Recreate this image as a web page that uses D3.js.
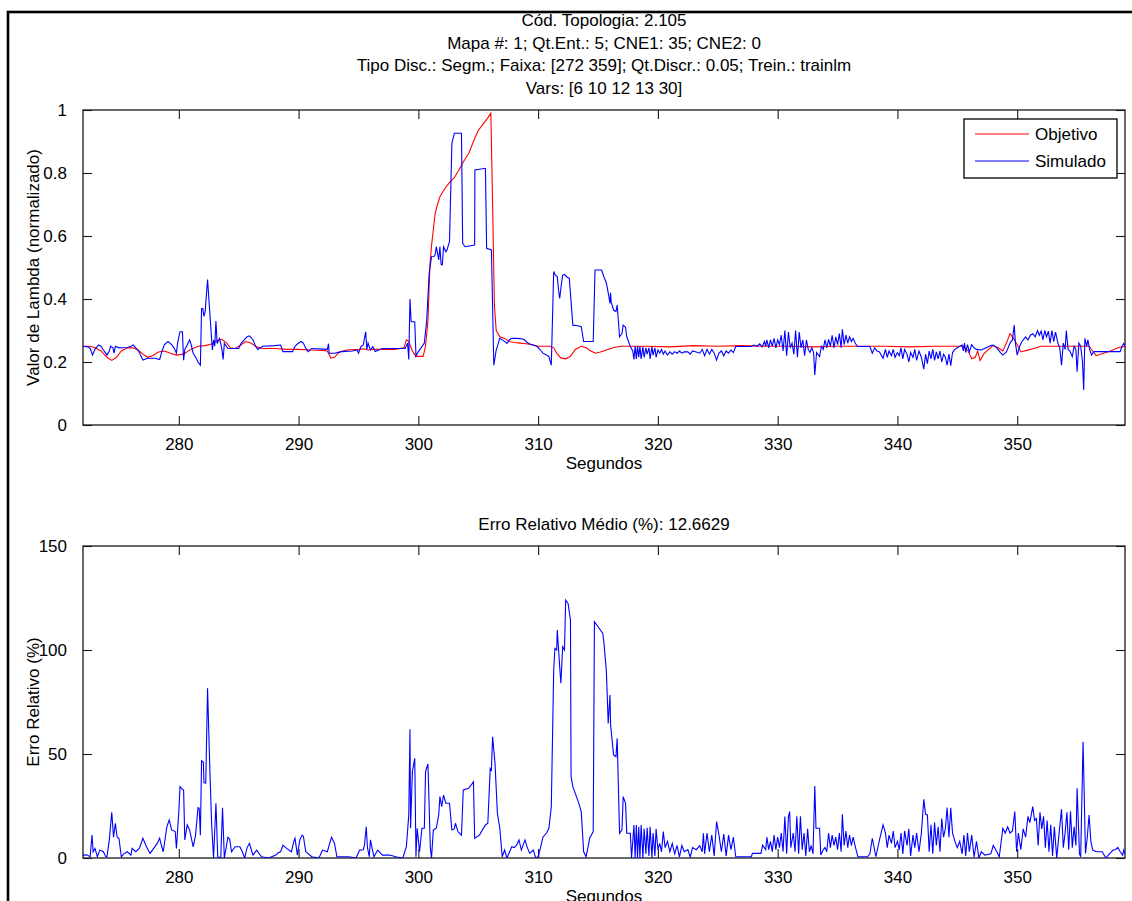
<!DOCTYPE html>
<html>
<head>
<meta charset="utf-8">
<script src="https://cdn.jsdelivr.net/npm/d3@7"></script>
<style>
  html, body { margin: 0; padding: 0; background: #fff; }
  svg text { font-family: "Liberation Sans", Arial, sans-serif; fill: #000; }
</style>
</head>
<body>
<svg id="chart" width="1132" height="901"></svg>
<script>
// ---------------- DATA ----------------
const titleLines = [
  "Cód. Topologia: 2.105",
  "Mapa #: 1; Qt.Ent.: 5; CNE1: 35; CNE2: 0",
  "Tipo Disc.: Segm.; Faixa: [272 359]; Qt.Discr.: 0.05; Trein.: trainlm",
  "Vars: [6 10 12 13 30]"
];
const errorTitle = "Erro Relativo Médio (%): 12.6629";
const xDomain = [272, 359];
const xTicks = [280, 290, 300, 310, 320, 330, 340, 350];
const yTicksTop = [0, 0.2, 0.4, 0.6, 0.8, 1];
const yTickLabelsTop = ["0", "0.2", "0.4", "0.6", "0.8", "1"];
const yTicksBottom = [0, 50, 100, 150];
const legendLabels = ["Objetivo", "Simulado"];

// Objetivo (red) [segundos, valor]
const objetivo = [
[272.0,0.25],[272.6,0.25],[273.0,0.245],[273.5,0.235],[274.0,0.215],[274.4,0.205],[274.8,0.215],[275.2,0.235],[275.7,0.245],
[276.2,0.245],[276.7,0.235],[277.1,0.222],[277.4,0.215],[277.8,0.22],[278.3,0.232],[278.8,0.235],[279.3,0.228],[279.8,0.222],
[280.4,0.225],[281.0,0.24],[281.6,0.25],[282.2,0.252],[282.8,0.258],[283.2,0.268],[283.6,0.272],[284.0,0.26],[284.3,0.245],
[284.7,0.243],[285.2,0.255],[285.6,0.265],[286.0,0.26],[286.5,0.248],[287.0,0.243],[288.0,0.243],[289.0,0.24],[290.0,0.24],
[291.0,0.238],[292.0,0.237],[292.4,0.235],[292.7,0.212],[293.0,0.215],[293.4,0.232],[294.0,0.238],[295.0,0.24],[295.5,0.242],
[295.8,0.238],[296.2,0.24],[297.0,0.24],[298.0,0.24],[298.8,0.245],[299.0,0.27],[299.2,0.265],[299.5,0.235],[299.8,0.218],
[300.4,0.218],[300.6,0.25],[300.8,0.33],[300.97,0.51],[301.1,0.57],[301.25,0.62],[301.4,0.672],[301.6,0.7],[301.8,0.725],
[302.2,0.75],[302.64,0.772],[303.0,0.785],[303.4,0.81],[303.76,0.836],[304.2,0.862],[304.6,0.9],[305.0,0.935],[305.4,0.955],
[305.8,0.975],[306.05,0.99],[306.2,0.7],[306.35,0.38],[306.5,0.3],[306.8,0.28],[307.2,0.275],[307.6,0.265],[308.0,0.262],
[308.5,0.26],[309.0,0.258],[309.5,0.255],[310.0,0.25],[310.5,0.25],[311.0,0.25],[311.3,0.245],[311.6,0.225],[311.9,0.213],
[312.3,0.21],[312.7,0.218],[313.1,0.24],[313.6,0.25],[314.0,0.245],[314.4,0.235],[314.8,0.228],[315.2,0.232],[315.8,0.24],
[316.4,0.247],[317.0,0.25],[319.0,0.25],[321.0,0.248],[323.0,0.252],[325.0,0.25],[327.0,0.252],[329.0,0.25],[331.0,0.25],
[333.0,0.248],[335.0,0.25],[337.0,0.25],[339.0,0.25],[341.0,0.248],[343.0,0.25],[345.0,0.25],[345.5,0.25],[345.9,0.235],
[346.2,0.21],[346.5,0.215],[346.7,0.235],[346.9,0.205],[347.2,0.225],[347.6,0.24],[348.0,0.252],[348.4,0.245],[348.8,0.235],
[349.1,0.26],[349.4,0.29],[349.7,0.275],[350.0,0.255],[350.3,0.232],[350.8,0.237],[351.4,0.243],[352.0,0.25],[354.0,0.25],
[356.0,0.25],[356.3,0.235],[356.6,0.22],[357.2,0.228],[357.8,0.235],[358.4,0.245],[359.0,0.25]
];

// Simulado (blue) [segundos, valor]
const simulado = [
[272.0,0.25],[272.4,0.248],[272.6,0.243],[272.8,0.222],[273.0,0.24],[273.3,0.254],[273.5,0.25],[273.7,0.238],[273.9,0.228],
[274.0,0.222],[274.2,0.235],[274.3,0.25],[274.5,0.245],[274.6,0.228],[274.7,0.25],[275.0,0.245],[275.7,0.246],[276.0,0.25],
[276.2,0.254],[276.4,0.245],[276.6,0.238],[276.8,0.222],[277.0,0.206],[277.4,0.212],[278.0,0.212],[278.4,0.208],[278.6,0.235],
[278.8,0.255],[279.1,0.265],[279.4,0.255],[279.6,0.245],[279.8,0.228],[279.9,0.26],[280.1,0.296],[280.3,0.296],[280.4,0.206],
[280.5,0.24],[280.7,0.254],[280.9,0.27],[281.0,0.26],[281.2,0.228],[281.4,0.215],[281.6,0.2],[281.8,0.19],[281.9,0.37],
[282.0,0.37],[282.1,0.345],[282.2,0.36],[282.4,0.462],[282.6,0.35],[282.8,0.238],[282.9,0.27],[283.0,0.25],[283.1,0.33],
[283.2,0.259],[283.4,0.275],[283.6,0.24],[283.7,0.208],[283.8,0.259],[284.1,0.243],[285.0,0.243],[285.2,0.259],[285.5,0.272],
[285.7,0.28],[285.9,0.283],[286.2,0.27],[286.4,0.25],[286.6,0.24],[287.0,0.25],[288.0,0.252],[288.5,0.254],[288.7,0.233],
[289.5,0.233],[289.7,0.25],[289.9,0.257],[290.2,0.265],[290.4,0.26],[290.6,0.243],[290.8,0.233],[291.1,0.243],[292.4,0.24],
[292.5,0.258],[292.55,0.228],[293.0,0.228],[293.6,0.233],[294.5,0.235],[294.9,0.238],[295.0,0.228],[295.2,0.248],[295.4,0.254],
[295.6,0.296],[295.7,0.24],[295.8,0.26],[296.0,0.238],[296.2,0.249],[296.4,0.233],[297.0,0.243],[298.0,0.243],[298.9,0.243],
[299.1,0.26],[299.2,0.208],[299.3,0.40],[299.4,0.328],[299.7,0.328],[299.8,0.219],[300.0,0.233],[300.3,0.249],[300.5,0.26],
[300.7,0.333],[300.9,0.481],[301.1,0.534],[301.3,0.535],[301.4,0.54],[301.5,0.566],[301.7,0.524],[301.8,0.566],[301.9,0.51],
[302.0,0.508],[302.1,0.566],[302.3,0.55],[302.4,0.556],[302.5,0.57],[302.6,0.582],[302.8,0.894],[302.9,0.91],[303.0,0.926],
[303.6,0.926],[303.7,0.577],[303.9,0.566],[304.7,0.571],[304.72,0.81],[305.6,0.815],[305.7,0.561],[306.1,0.556],[306.3,0.19],
[306.5,0.238],[306.8,0.275],[307.1,0.268],[307.4,0.259],[307.6,0.27],[307.8,0.275],[308.3,0.275],[308.8,0.272],[309.0,0.265],
[309.2,0.259],[309.5,0.255],[309.9,0.25],[310.2,0.238],[310.4,0.228],[310.7,0.222],[310.9,0.217],[311.1,0.19],[311.3,0.487],
[311.45,0.475],[311.6,0.471],[311.7,0.43],[311.8,0.402],[311.95,0.45],[312.05,0.476],[312.2,0.478],[312.4,0.47],[312.6,0.466],
[312.9,0.317],[313.3,0.315],[313.6,0.312],[313.8,0.265],[314.6,0.265],[314.75,0.492],[315.3,0.492],[315.5,0.47],[315.7,0.45],
[315.9,0.41],[316.0,0.386],[316.05,0.42],[316.1,0.39],[316.3,0.365],[316.5,0.36],[316.6,0.381],[316.8,0.28],[317.0,0.29],
[317.1,0.317],[317.3,0.31],[317.4,0.28],[317.7,0.249],[317.9,0.235],[318.0,0.208],[318.1,0.25],[318.2,0.21],[318.3,0.25],
[318.4,0.215],[318.5,0.25],[318.6,0.21],[318.75,0.248],[318.85,0.215],[319.0,0.245],[319.1,0.225],[319.25,0.245],[319.35,0.21],
[319.5,0.248],[319.6,0.222],[319.75,0.245],[319.85,0.215],[320.0,0.238],[320.15,0.228],[320.3,0.24],[320.45,0.225],[320.6,0.235],
[320.8,0.222],[321.0,0.232],[321.2,0.225],[321.4,0.233],[321.6,0.228],[321.8,0.235],[322.0,0.228],[322.2,0.232],[322.5,0.232],
[322.7,0.225],[322.9,0.235],[323.2,0.232],[323.5,0.228],[323.7,0.24],[323.9,0.22],[324.1,0.24],[324.3,0.225],[324.5,0.24],
[324.7,0.228],[324.9,0.206],[325.1,0.228],[325.3,0.235],[325.5,0.22],[325.7,0.235],[325.9,0.228],[326.1,0.238],[326.3,0.23],
[326.5,0.249],[327.8,0.249],[328.0,0.254],[328.3,0.25],[328.5,0.258],[328.7,0.248],[328.9,0.265],[329.0,0.25],[329.1,0.27],
[329.25,0.245],[329.4,0.27],[329.55,0.25],[329.7,0.275],[329.85,0.245],[330.0,0.27],[330.15,0.255],[330.3,0.285],[330.45,0.235],
[330.6,0.3],[330.75,0.22],[330.9,0.295],[331.05,0.245],[331.2,0.26],[331.35,0.225],[331.5,0.3],[331.65,0.215],[331.8,0.295],
[331.95,0.245],[332.1,0.27],[332.25,0.22],[332.4,0.27],[332.55,0.24],[332.7,0.23],[332.85,0.245],[333.0,0.23],[333.1,0.159],
[333.25,0.23],[333.5,0.217],[333.65,0.25],[333.8,0.24],[333.95,0.27],[334.1,0.245],[334.25,0.272],[334.4,0.25],[334.55,0.285],
[334.7,0.245],[334.85,0.28],[335.0,0.255],[335.15,0.29],[335.3,0.245],[335.4,0.304],[335.55,0.255],[335.7,0.285],[335.85,0.26],
[336.0,0.28],[336.15,0.265],[336.3,0.275],[336.5,0.258],[336.7,0.249],[337.7,0.249],[337.9,0.228],[338.1,0.245],[338.3,0.235],
[338.5,0.232],[338.8,0.212],[339.0,0.24],[339.15,0.215],[339.3,0.235],[339.5,0.22],[339.65,0.24],[339.8,0.215],[340.0,0.23],
[340.15,0.22],[340.3,0.245],[340.45,0.21],[340.6,0.24],[340.8,0.225],[340.95,0.2],[341.1,0.23],[341.3,0.215],[341.45,0.24],
[341.6,0.205],[341.8,0.235],[342.0,0.215],[342.2,0.177],[342.35,0.225],[342.5,0.195],[342.65,0.235],[342.8,0.21],[342.95,0.24],
[343.1,0.205],[343.25,0.232],[343.4,0.21],[343.55,0.235],[343.7,0.2],[343.85,0.225],[344.0,0.215],[344.15,0.19],[344.3,0.225],
[344.45,0.188],[344.6,0.23],[344.8,0.24],[345.0,0.245],[345.2,0.25],[345.4,0.254],[345.5,0.235],[345.6,0.26],[345.7,0.23],
[345.85,0.255],[346.0,0.232],[346.2,0.255],[346.4,0.245],[346.6,0.24],[347.0,0.238],[347.4,0.245],[347.8,0.252],[348.0,0.254],
[348.3,0.245],[348.6,0.23],[348.8,0.222],[349.1,0.232],[349.4,0.26],[349.6,0.27],[349.75,0.317],[349.85,0.26],[350.0,0.222],
[350.2,0.25],[350.4,0.265],[350.7,0.28],[350.9,0.27],[351.1,0.285],[351.3,0.29],[351.5,0.28],[351.7,0.3],[351.85,0.285],
[352.0,0.298],[352.15,0.27],[352.3,0.3],[352.45,0.28],[352.6,0.298],[352.75,0.26],[352.9,0.3],[353.05,0.265],[353.2,0.295],
[353.4,0.26],[353.55,0.245],[353.7,0.19],[353.85,0.26],[354.0,0.24],[354.1,0.30],[354.25,0.24],[354.4,0.235],[354.6,0.217],
[354.75,0.25],[354.9,0.24],[355.0,0.169],[355.15,0.26],[355.3,0.25],[355.45,0.2],[355.55,0.111],[355.65,0.275],[355.8,0.25],
[355.9,0.27],[356.05,0.24],[356.2,0.222],[356.4,0.233],[358.6,0.233],[358.75,0.25],[358.9,0.259],[359.0,0.25]
];

// Erro relativo (%) [segundos, erro]
const erro = [
[272.0,1.4],[272.3,1.5],[272.6,0.6],[272.75,11],[272.85,3],[273.0,4.6],[273.2,0.6],[273.4,3.8],[273.55,3.5],[273.7,3],
[273.9,0.6],[274.0,0.6],[274.2,8.7],[274.4,22],[274.55,10],[274.7,16.7],[274.85,10],[275.0,9.5],[275.2,0.6],[275.4,2],
[275.7,3],[276.0,1.4],[276.1,4.6],[276.4,3],[276.7,4.6],[276.85,7],[277.0,9.5],[277.3,5.4],[277.6,2.2],[277.9,4.6],
[278.2,7],[278.4,9.5],[278.55,6],[278.7,3],[279.0,15],[279.2,18.3],[279.4,13.5],[279.7,12.7],[279.8,4.6],[280.0,22.3],
[280.1,34.3],[280.3,33],[280.4,32.7],[280.5,8.7],[280.7,15.9],[280.9,13.5],[281.2,5.4],[281.4,11],[281.6,24.2],[281.7,24],
[281.8,11],[281.9,46.8],[282.05,46],[282.1,36.2],[282.25,36],[282.4,81.6],[282.6,40.7],[282.75,15],[282.9,0],[283.1,26.3],
[283.25,0.6],[283.5,0],[283.65,24.2],[283.8,0],[284.1,10],[284.25,9],[284.4,3],[284.7,5.4],[285.1,5.4],[285.3,3],
[285.5,0],[285.7,5],[285.9,7],[286.1,3],[286.2,1.4],[286.5,3.8],[286.9,0.6],[287.5,0],[288.1,1.4],[288.3,2.5],
[288.5,3],[288.7,6.2],[289.0,4.6],[289.4,3],[289.6,8],[289.7,9.5],[289.9,1.4],[290.1,8.7],[290.3,11],[290.4,10.5],
[290.6,3],[291.1,0.6],[291.7,0],[292.0,3.8],[292.4,3],[292.6,7],[292.75,10],[293.0,7],[293.2,0.6],[294.2,0.6],
[294.8,0],[295.1,3.8],[295.4,4],[295.5,6.2],[295.65,15],[295.75,5],[295.9,0.6],[296.0,8.7],[296.2,3],[296.3,0.6],
[296.6,3.8],[297.0,1.4],[297.6,1.4],[298.2,0.5],[298.7,0],[299.0,5.4],[299.2,20.7],[299.3,61.9],[299.35,14.3],[299.5,41.5],
[299.7,47.9],[299.8,0.6],[299.9,14.3],[300.1,3],[300.3,14.3],[300.5,14.3],[300.6,41.5],[300.8,45.2],[301.0,5],[301.1,0],
[301.25,13.5],[301.5,14.3],[301.7,20.7],[301.8,29.5],[301.95,24.7],[302.1,30.3],[302.3,26.3],[302.6,26.3],[302.8,13.5],[303.0,14],
[303.1,16.7],[303.3,12.7],[303.6,11],[303.75,32.7],[304.2,33.5],[304.4,35],[304.6,36.7],[304.7,9.5],[305.1,11],[305.4,14],
[305.6,15.9],[305.8,16.7],[306.0,43.1],[306.1,42.3],[306.2,58.3],[306.4,45.5],[306.6,21.5],[306.8,14.3],[307.0,0.6],[307.2,3.8],
[307.4,0],[307.8,5.4],[308.0,5],[308.2,6.2],[308.4,8.7],[308.6,3.8],[308.9,8.7],[309.1,5],[309.3,2.2],[309.6,3.8],
[309.8,0],[310.0,0.6],[310.2,5],[310.4,10],[310.7,12],[310.9,14.3],[311.1,24.7],[311.3,90.4],[311.4,100.8],[311.55,100],
[311.6,109.6],[311.8,92],[311.9,84],[312.05,101.6],[312.2,100],[312.3,124],[312.5,122.4],[312.7,114.4],[312.75,39.1],[312.9,34.3],
[313.2,29.5],[313.4,26.3],[313.6,22.3],[313.8,3],[314.0,0.6],[314.2,6.2],[314.3,9.5],[314.6,12.7],[314.7,113.6],[315.0,111.2],
[315.4,108],[315.5,103.2],[315.7,89.6],[315.85,64.7],[316.0,78.4],[316.05,64],[316.3,49.5],[316.5,48.7],[316.6,57.5],[316.8,11.9],
[317.0,13.5],[317.1,29.5],[317.3,26.3],[317.4,11.9],[317.7,11.9],[317.8,0],[318.0,15.9],[318.1,0],[318.2,15.9],[318.3,0],
[318.4,15],[318.5,0],[318.6,15.9],[318.75,0],[318.85,14],[319.0,2],[319.1,14.5],[319.25,1],[319.35,15],[319.5,0],
[319.6,12],[319.75,1],[319.85,14],[320.0,4],[320.15,7],[320.3,3],[320.45,12.7],[320.6,5],[320.8,8],[321.0,3],
[321.2,7],[321.4,2],[321.6,6],[321.8,0.5],[322.0,6],[322.2,3],[322.5,4],[322.7,0.5],[322.9,5],[323.2,4],
[323.5,6],[323.7,3],[323.8,11.9],[323.9,2],[324.1,12],[324.3,3],[324.5,11],[324.7,1],[324.9,17.5],[325.1,11],
[325.3,3],[325.5,11.5],[325.7,1],[325.9,11],[326.1,4],[326.3,10],[326.5,0.6],[327.8,0.6],[327.9,2.2],[328.6,2.2],
[328.75,6.2],[329.0,4],[329.1,10],[329.25,4],[329.4,8],[329.55,3],[329.7,11],[329.85,4],[330.0,10],[330.15,5],
[330.3,12],[330.45,3],[330.6,19.9],[330.75,2],[330.9,20],[331.0,22.3],[331.1,5],[331.3,12],[331.45,3],[331.6,20],
[331.75,2],[331.9,20],[332.05,4],[332.2,12],[332.35,1],[332.5,14],[332.65,3],[332.8,6],[332.95,2],[333.1,34.6],
[333.2,14.3],[333.5,14.3],[333.6,1.4],[333.8,4],[333.95,5],[334.1,3],[334.25,12],[334.4,5],[334.55,11],[334.7,6],
[334.85,10],[335.0,4],[335.15,12],[335.3,3],[335.4,21],[335.55,6],[335.7,13],[335.85,5],[336.0,11],[336.15,6],
[336.3,10],[336.5,5],[336.7,0.6],[337.5,0.6],[337.7,2],[337.9,9.5],[338.2,0.6],[338.5,8.7],[338.8,15.9],[339.0,12],
[339.15,5],[339.3,11],[339.5,7],[339.65,13],[339.8,5],[340.0,8],[340.15,4],[340.3,12],[340.45,2],[340.6,13],
[340.8,6],[340.95,14],[341.1,1],[341.3,11],[341.45,5],[341.6,12],[341.8,3],[342.0,12],[342.2,28.2],[342.35,21],
[342.5,20.7],[342.65,3],[342.8,16],[342.95,2],[343.1,17],[343.25,6],[343.4,15],[343.55,3],[343.7,19],[343.85,10],
[344.0,14],[344.15,24.2],[344.3,10],[344.45,24.2],[344.6,12],[344.8,8],[345.0,5],[345.2,8],[345.4,2],[345.55,11],
[345.7,1],[345.85,12],[346.0,3],[346.2,11],[346.4,0.5],[346.6,8],[346.8,0],[347.0,3],[347.3,1.4],[347.8,2],
[348.0,6],[348.3,3],[348.5,0.5],[348.8,14.3],[349.0,12],[349.2,15],[349.4,12],[349.6,13],[349.8,22.3],[349.95,3],
[350.1,12],[350.3,4],[350.5,14],[350.7,10],[350.9,20],[351.05,17],[351.3,24.7],[351.45,18],[351.6,19],[351.75,6],
[351.9,22],[352.05,14],[352.2,20],[352.35,5],[352.5,18],[352.65,3],[352.8,16],[352.95,1],[353.1,15],[353.3,0],
[353.5,12],[353.7,23.4],[353.85,5],[354.0,12],[354.15,22],[354.3,4],[354.45,22.5],[354.6,5],[354.75,15],[354.9,6],
[355.0,33.5],[355.2,2],[355.3,0.6],[355.5,55.9],[355.7,2.2],[355.85,10],[356.0,20.7],[356.15,8],[356.3,3.8],[356.6,3],
[357.1,3],[357.4,0],[357.7,2],[358.0,3.8],[358.2,4],[358.4,5.1],[358.6,3],[358.8,1.4],[358.9,3.8],[359.0,2]
];

// ---------------- DRAW ----------------
const svg = d3.select("#chart");
const FS = 17;
const axisColor = "#1a1a1a";

// outer figure frame
svg.append("rect").attr("x", 8).attr("y", 12).attr("width", 1300).attr("height", 1100)
  .attr("fill", "none").attr("stroke", "#000").attr("stroke-width", 2.6);

const left = 83, right = 1125;
const x = d3.scaleLinear().domain(xDomain).range([left, right]);

function panel(opts) {
  const { top, bottom, yDomain, yTicks, yLabels, ylabel, clipId } = opts;
  const y = d3.scaleLinear().domain(yDomain).range([bottom, top]);
  const g = svg.append("g");

  svg.append("clipPath").attr("id", clipId).append("rect")
    .attr("x", left).attr("y", top).attr("width", right - left).attr("height", bottom - top);

  // ticks (inside, all four sides)
  const tl = 9;
  const xAxisB = d3.axisBottom(x).tickValues(xTicks).tickSize(-tl).tickPadding(13).tickFormat(d3.format("d"));
  const xAxisT = d3.axisTop(x).tickValues(xTicks).tickSize(-tl).tickFormat("");
  const yAxisL = d3.axisLeft(y).tickValues(yTicks).tickSize(-tl).tickPadding(16)
    .tickFormat((d, i) => yLabels[i]);
  const yAxisR = d3.axisRight(y).tickValues(yTicks).tickSize(-tl).tickFormat("");

  const styleAxis = sel => {
    sel.select(".domain").remove();
    sel.selectAll(".tick line").attr("stroke", axisColor).attr("stroke-width", 1.1);
    sel.selectAll(".tick text").attr("font-size", FS).attr("font-family", "Liberation Sans, Arial, sans-serif").attr("fill", "#000");
  };
  g.append("g").attr("transform", `translate(0,${bottom})`).call(xAxisB).call(styleAxis);
  g.append("g").attr("transform", `translate(0,${top})`).call(xAxisT).call(styleAxis);
  g.append("g").attr("transform", `translate(${left},0)`).call(yAxisL).call(styleAxis);
  g.append("g").attr("transform", `translate(${right},0)`).call(yAxisR).call(styleAxis);

  // box
  g.append("rect").attr("x", left).attr("y", top).attr("width", right - left).attr("height", bottom - top)
    .attr("fill", "none").attr("stroke", axisColor).attr("stroke-width", 1.3);

  // labels
  g.append("text").attr("x", (left + right) / 2).attr("y", bottom + 44)
    .attr("text-anchor", "middle").attr("font-size", FS).text("Segundos");
  g.append("text").attr("transform", `translate(39,${(top + bottom) / 2}) rotate(-90)`)
    .attr("text-anchor", "middle").attr("font-size", FS).text(ylabel);

  return { y, g };
}

// top panel
const p1 = panel({ top: 110, bottom: 425, yDomain: [0, 1], yTicks: yTicksTop, yLabels: yTickLabelsTop,
  ylabel: "Valor de Lambda (normalizado)", clipId: "clip1" });
const line1 = d3.line().x(d => x(d[0])).y(d => p1.y(d[1]));
const data1 = svg.append("g").attr("clip-path", "url(#clip1)");
data1.append("path").datum(objetivo).attr("d", line1).attr("fill", "none").attr("stroke", "#ff0000").attr("stroke-width", 1.1);
data1.append("path").datum(simulado).attr("d", line1).attr("fill", "none").attr("stroke", "#0000ff").attr("stroke-width", 1.1);

// title lines
const titleY = [26, 48.5, 71, 94];
svg.selectAll("text.title").data(titleLines).enter().append("text")
  .attr("class", "title").attr("x", 604).attr("y", (d, i) => titleY[i])
  .attr("text-anchor", "middle").attr("font-size", FS).text(d => d);

// legend
const lg = svg.append("g");
lg.append("rect").attr("x", 964).attr("y", 119).attr("width", 153).attr("height", 59)
  .attr("fill", "#fff").attr("stroke", "#000").attr("stroke-width", 1.3);
const legColors = ["#ff0000", "#0000ff"];
legendLabels.forEach((lab, i) => {
  const yy = 134 + i * 27;
  lg.append("line").attr("x1", 975).attr("x2", 1029).attr("y1", yy).attr("y2", yy)
    .attr("stroke", legColors[i]).attr("stroke-width", 1.1);
  lg.append("text").attr("x", 1035).attr("y", yy + 6).attr("font-size", FS).text(lab);
});

// bottom panel
const p2 = panel({ top: 546, bottom: 858, yDomain: [0, 150], yTicks: yTicksBottom, yLabels: yTicksBottom.map(String),
  ylabel: "Erro Relativo (%)", clipId: "clip2" });
const line2 = d3.line().x(d => x(d[0])).y(d => p2.y(d[1]));
svg.append("g").attr("clip-path", "url(#clip2)").append("path").datum(erro).attr("d", line2)
  .attr("fill", "none").attr("stroke", "#0000ff").attr("stroke-width", 1.1);

svg.append("text").attr("x", 604).attr("y", 530).attr("text-anchor", "middle").attr("font-size", FS).text(errorTitle);
</script>
</body>
</html>
